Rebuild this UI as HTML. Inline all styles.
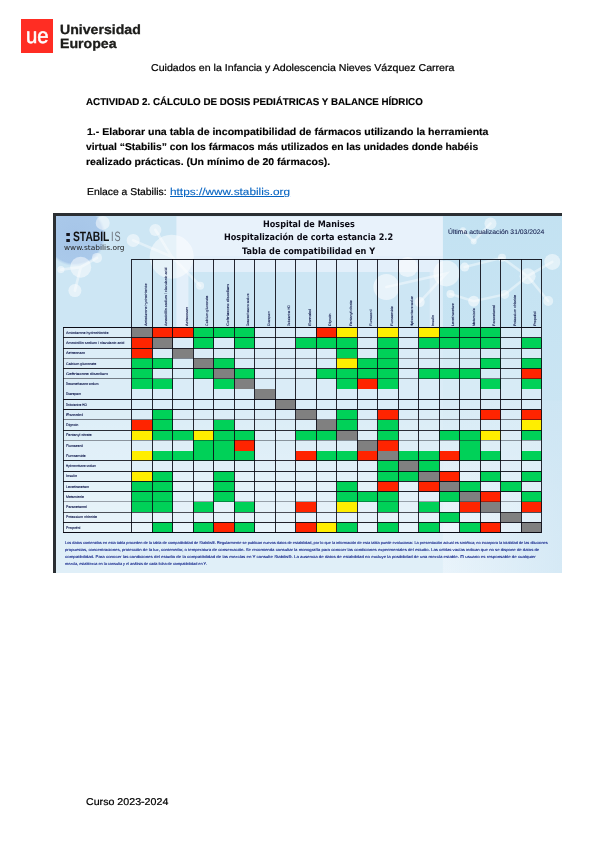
<!DOCTYPE html><html lang="es"><head><meta charset="utf-8"><title>Actividad 2</title><style>
html,body{margin:0;padding:0;background:#fff}
body{width:600px;height:848px;position:relative;overflow:hidden;text-rendering:geometricPrecision;font-family:"Liberation Sans", sans-serif}
.t{position:absolute;white-space:nowrap;transform-origin:0 50%;line-height:20px;height:20px;margin:0}
.a{position:absolute}
.v{position:absolute;white-space:nowrap;transform-origin:0 50%;line-height:10px;height:10px;font-size:3.5px;color:#0c1448;-webkit-text-stroke:.1px #0c1448}
u{text-decoration-thickness:.8px;text-underline-offset:1.2px}
</style></head><body>
<div class="a" style="left:20.8px;top:19px;width:32.4px;height:34px;background:#ff2d23"></div>
<svg class="a" style="left:20.8px;top:19px" width="32.4" height="34" viewBox="0 0 32.4 34"><text x="16.2" y="24.1" text-anchor="middle" font-family="Liberation Sans, sans-serif" font-size="21.6" fill="#fff" stroke="#fff" stroke-width=".55" textLength="22.6" lengthAdjust="spacingAndGlyphs">ue</text></svg>
<div id="fig" class="a" style="left:0;top:0;width:600px;height:848px;filter:blur(.35px)">
<div id="img" class="a" style="left:53.3px;top:212.6px;width:508.3px;height:360.7px;background:#c9e4f3;overflow:hidden">
<svg class="a" style="left:0;top:0" width="508.3" height="360.7" viewBox="53.3 212.6 508.3 360.7">
<defs>
<radialGradient id="blob" cx="50%" cy="50%" r="50%"><stop offset="0" stop-color="#a6c5e8"/><stop offset=".9" stop-color="#aac9ea"/><stop offset="1" stop-color="#b8d5ef" stop-opacity="0"/></radialGradient>
<linearGradient id="rg" x1="0" y1="0" x2="0" y2="1"><stop offset="0" stop-color="#c3e2f2"/><stop offset=".6" stop-color="#cbe5f3"/><stop offset="1" stop-color="#ddedf8"/></linearGradient>
</defs>
<rect x="53" y="212" width="510" height="362" fill="#cde6f4"/>
<rect x="443.2" y="212" width="125" height="362" fill="url(#rg)"/>
<circle cx="75" cy="235" r="31" fill="url(#blob)"/>
<rect x="176.7" y="216" width="266.5" height="39.6" fill="#e8f2fb"/>
<rect x="176.7" y="255.6" width="266.5" height="16" fill="#e3effa"/>
<rect x="176.7" y="271.6" width="12" height="60" fill="#e3effa"/>
<rect x="430" y="271.6" width="13.2" height="60" fill="#dcecf8"/>
<linearGradient id="vg" x1="0" y1="0" x2="0" y2="1"><stop offset="0" stop-color="#fff" stop-opacity="0"/><stop offset="1" stop-color="#fff" stop-opacity=".38"/></linearGradient><linearGradient id="hg" x1="0" y1="0" x2="1" y2="0"><stop offset="0" stop-color="#cfe6f4" stop-opacity="0"/><stop offset="1" stop-color="#cfe6f4" stop-opacity=".75"/></linearGradient><rect x="53" y="400" width="510" height="135" fill="url(#vg)"/><rect x="53" y="535" width="510" height="40" fill="#fff" fill-opacity=".38"/><rect x="440" y="400" width="123" height="175" fill="url(#hg)"/>
<g fill="#fff" stroke="none" opacity=".5">
<circle cx="81" cy="266.8" r="10.5"/><circle cx="61.2" cy="269.2" r="3.6"/><circle cx="75.2" cy="290.2" r="6.5"/><circle cx="97.3" cy="257.5" r="5"/>
<circle cx="103" cy="222.5" r="7"/>
<circle cx="172" cy="256.3" r="22"/><circle cx="133.5" cy="240" r="6.5"/><circle cx="155.7" cy="229.5" r="6"/><circle cx="200.4" cy="285.3" r="4"/>
<circle cx="490.8" cy="223" r="6"/><circle cx="463.3" cy="229.9" r="3"/><circle cx="474" cy="241" r="3"/>
<circle cx="552.6" cy="261.5" r="8"/><circle cx="527.9" cy="275.8" r="8"/><circle cx="502.3" cy="257.4" r="4"/>
<circle cx="505" cy="294" r="4.5"/><circle cx="548.5" cy="300.6" r="5"/>
</g>
<g fill="#fff" stroke="none" opacity=".55">
<circle cx="386.7" cy="286.7" r="13"/><circle cx="408" cy="266.7" r="10"/><circle cx="446.7" cy="273" r="13"/><circle cx="420" cy="301.7" r="5"/>
<circle cx="450.8" cy="293.7" r="4"/><circle cx="465" cy="266.7" r="4.5"/><circle cx="474" cy="300.8" r="5.5"/>
</g>
<g stroke="#fff" stroke-width="2.6" opacity=".42" fill="none" stroke-linecap="round">
<path d="M81 266.8L61.2 269.2M81 266.8L75.2 290.2M81 266.8L97.3 257.5"/>
<path d="M172 256.3L133.5 240M172 256.3L155.7 229.5M172 256.3L200.4 285.3"/>
<path d="M552.6 261.5L527.9 275.8L548.5 300.6M527.9 275.8L502.3 257.4L465 266.7M450.8 293.7L474 300.8L505 294L527.9 275.8M386.7 286.7L446.7 273L420 301.7M490.8 223L474 241L463.3 229.9"/>
</g>
</svg>

</div>
<div class="a" style="left:53.3px;top:212.6px;width:508.3px;height:3.4px;background:#2b2f33"></div>
<div class="a" style="left:53.3px;top:212.6px;width:2.6px;height:360.7px;background:#2b2f33"></div>
<div class="a" style="left:63.30px;top:327.50px;width:68.20px;height:205.00px;background:rgba(255,255,255,.3)"></div>
<div class="a" style="left:131.50px;top:327.50px;width:20.50px;height:10.25px;background:#808080"></div>
<div class="a" style="left:152.00px;top:327.50px;width:20.50px;height:10.25px;background:#ff2400"></div>
<div class="a" style="left:172.50px;top:327.50px;width:20.50px;height:10.25px;background:#ff2400"></div>
<div class="a" style="left:193.00px;top:327.50px;width:20.50px;height:10.25px;background:#00d158"></div>
<div class="a" style="left:213.50px;top:327.50px;width:20.50px;height:10.25px;background:#00d158"></div>
<div class="a" style="left:234.00px;top:327.50px;width:20.50px;height:10.25px;background:#00d158"></div>
<div class="a" style="left:254.50px;top:327.50px;width:20.50px;height:10.25px;background:rgba(255,255,255,.26)"></div>
<div class="a" style="left:275.00px;top:327.50px;width:20.50px;height:10.25px;background:rgba(255,255,255,.26)"></div>
<div class="a" style="left:295.50px;top:327.50px;width:20.50px;height:10.25px;background:rgba(255,255,255,.26)"></div>
<div class="a" style="left:316.00px;top:327.50px;width:20.50px;height:10.25px;background:#ff2400"></div>
<div class="a" style="left:336.50px;top:327.50px;width:20.50px;height:10.25px;background:#ffee00"></div>
<div class="a" style="left:357.00px;top:327.50px;width:20.50px;height:10.25px;background:rgba(255,255,255,.26)"></div>
<div class="a" style="left:377.50px;top:327.50px;width:20.50px;height:10.25px;background:#ffee00"></div>
<div class="a" style="left:398.00px;top:327.50px;width:20.50px;height:10.25px;background:rgba(255,255,255,.26)"></div>
<div class="a" style="left:418.50px;top:327.50px;width:20.50px;height:10.25px;background:#ffee00"></div>
<div class="a" style="left:439.00px;top:327.50px;width:20.50px;height:10.25px;background:#00d158"></div>
<div class="a" style="left:459.50px;top:327.50px;width:20.50px;height:10.25px;background:#00d158"></div>
<div class="a" style="left:480.00px;top:327.50px;width:20.50px;height:10.25px;background:#00d158"></div>
<div class="a" style="left:500.50px;top:327.50px;width:20.50px;height:10.25px;background:rgba(255,255,255,.26)"></div>
<div class="a" style="left:521.00px;top:327.50px;width:20.50px;height:10.25px;background:rgba(255,255,255,.26)"></div>
<div class="a" style="left:131.50px;top:337.75px;width:20.50px;height:10.25px;background:#ff2400"></div>
<div class="a" style="left:152.00px;top:337.75px;width:20.50px;height:10.25px;background:#808080"></div>
<div class="a" style="left:172.50px;top:337.75px;width:20.50px;height:10.25px;background:rgba(255,255,255,.26)"></div>
<div class="a" style="left:193.00px;top:337.75px;width:20.50px;height:10.25px;background:#00d158"></div>
<div class="a" style="left:213.50px;top:337.75px;width:20.50px;height:10.25px;background:rgba(255,255,255,.26)"></div>
<div class="a" style="left:234.00px;top:337.75px;width:20.50px;height:10.25px;background:#00d158"></div>
<div class="a" style="left:254.50px;top:337.75px;width:20.50px;height:10.25px;background:rgba(255,255,255,.26)"></div>
<div class="a" style="left:275.00px;top:337.75px;width:20.50px;height:10.25px;background:rgba(255,255,255,.26)"></div>
<div class="a" style="left:295.50px;top:337.75px;width:20.50px;height:10.25px;background:#00d158"></div>
<div class="a" style="left:316.00px;top:337.75px;width:20.50px;height:10.25px;background:#00d158"></div>
<div class="a" style="left:336.50px;top:337.75px;width:20.50px;height:10.25px;background:#00d158"></div>
<div class="a" style="left:357.00px;top:337.75px;width:20.50px;height:10.25px;background:rgba(255,255,255,.26)"></div>
<div class="a" style="left:377.50px;top:337.75px;width:20.50px;height:10.25px;background:#00d158"></div>
<div class="a" style="left:398.00px;top:337.75px;width:20.50px;height:10.25px;background:rgba(255,255,255,.26)"></div>
<div class="a" style="left:418.50px;top:337.75px;width:20.50px;height:10.25px;background:#00d158"></div>
<div class="a" style="left:439.00px;top:337.75px;width:20.50px;height:10.25px;background:#00d158"></div>
<div class="a" style="left:459.50px;top:337.75px;width:20.50px;height:10.25px;background:#00d158"></div>
<div class="a" style="left:480.00px;top:337.75px;width:20.50px;height:10.25px;background:#00d158"></div>
<div class="a" style="left:500.50px;top:337.75px;width:20.50px;height:10.25px;background:rgba(255,255,255,.26)"></div>
<div class="a" style="left:521.00px;top:337.75px;width:20.50px;height:10.25px;background:#00d158"></div>
<div class="a" style="left:131.50px;top:348.00px;width:20.50px;height:10.25px;background:#ff2400"></div>
<div class="a" style="left:152.00px;top:348.00px;width:20.50px;height:10.25px;background:rgba(255,255,255,.26)"></div>
<div class="a" style="left:172.50px;top:348.00px;width:20.50px;height:10.25px;background:#808080"></div>
<div class="a" style="left:193.00px;top:348.00px;width:20.50px;height:10.25px;background:rgba(255,255,255,.26)"></div>
<div class="a" style="left:213.50px;top:348.00px;width:20.50px;height:10.25px;background:rgba(255,255,255,.26)"></div>
<div class="a" style="left:234.00px;top:348.00px;width:20.50px;height:10.25px;background:rgba(255,255,255,.26)"></div>
<div class="a" style="left:254.50px;top:348.00px;width:20.50px;height:10.25px;background:rgba(255,255,255,.26)"></div>
<div class="a" style="left:275.00px;top:348.00px;width:20.50px;height:10.25px;background:rgba(255,255,255,.26)"></div>
<div class="a" style="left:295.50px;top:348.00px;width:20.50px;height:10.25px;background:rgba(255,255,255,.26)"></div>
<div class="a" style="left:316.00px;top:348.00px;width:20.50px;height:10.25px;background:rgba(255,255,255,.26)"></div>
<div class="a" style="left:336.50px;top:348.00px;width:20.50px;height:10.25px;background:#00d158"></div>
<div class="a" style="left:357.00px;top:348.00px;width:20.50px;height:10.25px;background:rgba(255,255,255,.26)"></div>
<div class="a" style="left:377.50px;top:348.00px;width:20.50px;height:10.25px;background:#00d158"></div>
<div class="a" style="left:398.00px;top:348.00px;width:20.50px;height:10.25px;background:rgba(255,255,255,.26)"></div>
<div class="a" style="left:418.50px;top:348.00px;width:20.50px;height:10.25px;background:rgba(255,255,255,.26)"></div>
<div class="a" style="left:439.00px;top:348.00px;width:20.50px;height:10.25px;background:rgba(255,255,255,.26)"></div>
<div class="a" style="left:459.50px;top:348.00px;width:20.50px;height:10.25px;background:rgba(255,255,255,.26)"></div>
<div class="a" style="left:480.00px;top:348.00px;width:20.50px;height:10.25px;background:rgba(255,255,255,.26)"></div>
<div class="a" style="left:500.50px;top:348.00px;width:20.50px;height:10.25px;background:rgba(255,255,255,.26)"></div>
<div class="a" style="left:521.00px;top:348.00px;width:20.50px;height:10.25px;background:rgba(255,255,255,.26)"></div>
<div class="a" style="left:131.50px;top:358.25px;width:20.50px;height:10.25px;background:#00d158"></div>
<div class="a" style="left:152.00px;top:358.25px;width:20.50px;height:10.25px;background:#00d158"></div>
<div class="a" style="left:172.50px;top:358.25px;width:20.50px;height:10.25px;background:rgba(255,255,255,.26)"></div>
<div class="a" style="left:193.00px;top:358.25px;width:20.50px;height:10.25px;background:#808080"></div>
<div class="a" style="left:213.50px;top:358.25px;width:20.50px;height:10.25px;background:#00d158"></div>
<div class="a" style="left:234.00px;top:358.25px;width:20.50px;height:10.25px;background:rgba(255,255,255,.26)"></div>
<div class="a" style="left:254.50px;top:358.25px;width:20.50px;height:10.25px;background:rgba(255,255,255,.26)"></div>
<div class="a" style="left:275.00px;top:358.25px;width:20.50px;height:10.25px;background:rgba(255,255,255,.26)"></div>
<div class="a" style="left:295.50px;top:358.25px;width:20.50px;height:10.25px;background:rgba(255,255,255,.26)"></div>
<div class="a" style="left:316.00px;top:358.25px;width:20.50px;height:10.25px;background:rgba(255,255,255,.26)"></div>
<div class="a" style="left:336.50px;top:358.25px;width:20.50px;height:10.25px;background:#ffee00"></div>
<div class="a" style="left:357.00px;top:358.25px;width:20.50px;height:10.25px;background:#00d158"></div>
<div class="a" style="left:377.50px;top:358.25px;width:20.50px;height:10.25px;background:#00d158"></div>
<div class="a" style="left:398.00px;top:358.25px;width:20.50px;height:10.25px;background:rgba(255,255,255,.26)"></div>
<div class="a" style="left:418.50px;top:358.25px;width:20.50px;height:10.25px;background:rgba(255,255,255,.26)"></div>
<div class="a" style="left:439.00px;top:358.25px;width:20.50px;height:10.25px;background:rgba(255,255,255,.26)"></div>
<div class="a" style="left:459.50px;top:358.25px;width:20.50px;height:10.25px;background:rgba(255,255,255,.26)"></div>
<div class="a" style="left:480.00px;top:358.25px;width:20.50px;height:10.25px;background:#00d158"></div>
<div class="a" style="left:500.50px;top:358.25px;width:20.50px;height:10.25px;background:rgba(255,255,255,.26)"></div>
<div class="a" style="left:521.00px;top:358.25px;width:20.50px;height:10.25px;background:#00d158"></div>
<div class="a" style="left:131.50px;top:368.50px;width:20.50px;height:10.25px;background:#00d158"></div>
<div class="a" style="left:152.00px;top:368.50px;width:20.50px;height:10.25px;background:rgba(255,255,255,.26)"></div>
<div class="a" style="left:172.50px;top:368.50px;width:20.50px;height:10.25px;background:rgba(255,255,255,.26)"></div>
<div class="a" style="left:193.00px;top:368.50px;width:20.50px;height:10.25px;background:#00d158"></div>
<div class="a" style="left:213.50px;top:368.50px;width:20.50px;height:10.25px;background:#808080"></div>
<div class="a" style="left:234.00px;top:368.50px;width:20.50px;height:10.25px;background:#00d158"></div>
<div class="a" style="left:254.50px;top:368.50px;width:20.50px;height:10.25px;background:rgba(255,255,255,.26)"></div>
<div class="a" style="left:275.00px;top:368.50px;width:20.50px;height:10.25px;background:rgba(255,255,255,.26)"></div>
<div class="a" style="left:295.50px;top:368.50px;width:20.50px;height:10.25px;background:rgba(255,255,255,.26)"></div>
<div class="a" style="left:316.00px;top:368.50px;width:20.50px;height:10.25px;background:#00d158"></div>
<div class="a" style="left:336.50px;top:368.50px;width:20.50px;height:10.25px;background:#00d158"></div>
<div class="a" style="left:357.00px;top:368.50px;width:20.50px;height:10.25px;background:#00d158"></div>
<div class="a" style="left:377.50px;top:368.50px;width:20.50px;height:10.25px;background:#00d158"></div>
<div class="a" style="left:398.00px;top:368.50px;width:20.50px;height:10.25px;background:rgba(255,255,255,.26)"></div>
<div class="a" style="left:418.50px;top:368.50px;width:20.50px;height:10.25px;background:#00d158"></div>
<div class="a" style="left:439.00px;top:368.50px;width:20.50px;height:10.25px;background:#00d158"></div>
<div class="a" style="left:459.50px;top:368.50px;width:20.50px;height:10.25px;background:#00d158"></div>
<div class="a" style="left:480.00px;top:368.50px;width:20.50px;height:10.25px;background:rgba(255,255,255,.26)"></div>
<div class="a" style="left:500.50px;top:368.50px;width:20.50px;height:10.25px;background:rgba(255,255,255,.26)"></div>
<div class="a" style="left:521.00px;top:368.50px;width:20.50px;height:10.25px;background:#ff2400"></div>
<div class="a" style="left:131.50px;top:378.75px;width:20.50px;height:10.25px;background:#00d158"></div>
<div class="a" style="left:152.00px;top:378.75px;width:20.50px;height:10.25px;background:#00d158"></div>
<div class="a" style="left:172.50px;top:378.75px;width:20.50px;height:10.25px;background:rgba(255,255,255,.26)"></div>
<div class="a" style="left:193.00px;top:378.75px;width:20.50px;height:10.25px;background:rgba(255,255,255,.26)"></div>
<div class="a" style="left:213.50px;top:378.75px;width:20.50px;height:10.25px;background:#00d158"></div>
<div class="a" style="left:234.00px;top:378.75px;width:20.50px;height:10.25px;background:#808080"></div>
<div class="a" style="left:254.50px;top:378.75px;width:20.50px;height:10.25px;background:rgba(255,255,255,.26)"></div>
<div class="a" style="left:275.00px;top:378.75px;width:20.50px;height:10.25px;background:rgba(255,255,255,.26)"></div>
<div class="a" style="left:295.50px;top:378.75px;width:20.50px;height:10.25px;background:rgba(255,255,255,.26)"></div>
<div class="a" style="left:316.00px;top:378.75px;width:20.50px;height:10.25px;background:rgba(255,255,255,.26)"></div>
<div class="a" style="left:336.50px;top:378.75px;width:20.50px;height:10.25px;background:#00d158"></div>
<div class="a" style="left:357.00px;top:378.75px;width:20.50px;height:10.25px;background:#ff2400"></div>
<div class="a" style="left:377.50px;top:378.75px;width:20.50px;height:10.25px;background:#00d158"></div>
<div class="a" style="left:398.00px;top:378.75px;width:20.50px;height:10.25px;background:rgba(255,255,255,.26)"></div>
<div class="a" style="left:418.50px;top:378.75px;width:20.50px;height:10.25px;background:rgba(255,255,255,.26)"></div>
<div class="a" style="left:439.00px;top:378.75px;width:20.50px;height:10.25px;background:rgba(255,255,255,.26)"></div>
<div class="a" style="left:459.50px;top:378.75px;width:20.50px;height:10.25px;background:rgba(255,255,255,.26)"></div>
<div class="a" style="left:480.00px;top:378.75px;width:20.50px;height:10.25px;background:#00d158"></div>
<div class="a" style="left:500.50px;top:378.75px;width:20.50px;height:10.25px;background:rgba(255,255,255,.26)"></div>
<div class="a" style="left:521.00px;top:378.75px;width:20.50px;height:10.25px;background:#00d158"></div>
<div class="a" style="left:131.50px;top:389.00px;width:20.50px;height:10.25px;background:rgba(255,255,255,.26)"></div>
<div class="a" style="left:152.00px;top:389.00px;width:20.50px;height:10.25px;background:rgba(255,255,255,.26)"></div>
<div class="a" style="left:172.50px;top:389.00px;width:20.50px;height:10.25px;background:rgba(255,255,255,.26)"></div>
<div class="a" style="left:193.00px;top:389.00px;width:20.50px;height:10.25px;background:rgba(255,255,255,.26)"></div>
<div class="a" style="left:213.50px;top:389.00px;width:20.50px;height:10.25px;background:rgba(255,255,255,.26)"></div>
<div class="a" style="left:234.00px;top:389.00px;width:20.50px;height:10.25px;background:rgba(255,255,255,.26)"></div>
<div class="a" style="left:254.50px;top:389.00px;width:20.50px;height:10.25px;background:#808080"></div>
<div class="a" style="left:275.00px;top:389.00px;width:20.50px;height:10.25px;background:rgba(255,255,255,.26)"></div>
<div class="a" style="left:295.50px;top:389.00px;width:20.50px;height:10.25px;background:rgba(255,255,255,.26)"></div>
<div class="a" style="left:316.00px;top:389.00px;width:20.50px;height:10.25px;background:rgba(255,255,255,.26)"></div>
<div class="a" style="left:336.50px;top:389.00px;width:20.50px;height:10.25px;background:rgba(255,255,255,.26)"></div>
<div class="a" style="left:357.00px;top:389.00px;width:20.50px;height:10.25px;background:rgba(255,255,255,.26)"></div>
<div class="a" style="left:377.50px;top:389.00px;width:20.50px;height:10.25px;background:rgba(255,255,255,.26)"></div>
<div class="a" style="left:398.00px;top:389.00px;width:20.50px;height:10.25px;background:rgba(255,255,255,.26)"></div>
<div class="a" style="left:418.50px;top:389.00px;width:20.50px;height:10.25px;background:rgba(255,255,255,.26)"></div>
<div class="a" style="left:439.00px;top:389.00px;width:20.50px;height:10.25px;background:rgba(255,255,255,.26)"></div>
<div class="a" style="left:459.50px;top:389.00px;width:20.50px;height:10.25px;background:rgba(255,255,255,.26)"></div>
<div class="a" style="left:480.00px;top:389.00px;width:20.50px;height:10.25px;background:rgba(255,255,255,.26)"></div>
<div class="a" style="left:500.50px;top:389.00px;width:20.50px;height:10.25px;background:rgba(255,255,255,.26)"></div>
<div class="a" style="left:521.00px;top:389.00px;width:20.50px;height:10.25px;background:rgba(255,255,255,.26)"></div>
<div class="a" style="left:131.50px;top:399.25px;width:20.50px;height:10.25px;background:rgba(255,255,255,.26)"></div>
<div class="a" style="left:152.00px;top:399.25px;width:20.50px;height:10.25px;background:rgba(255,255,255,.26)"></div>
<div class="a" style="left:172.50px;top:399.25px;width:20.50px;height:10.25px;background:rgba(255,255,255,.26)"></div>
<div class="a" style="left:193.00px;top:399.25px;width:20.50px;height:10.25px;background:rgba(255,255,255,.26)"></div>
<div class="a" style="left:213.50px;top:399.25px;width:20.50px;height:10.25px;background:rgba(255,255,255,.26)"></div>
<div class="a" style="left:234.00px;top:399.25px;width:20.50px;height:10.25px;background:rgba(255,255,255,.26)"></div>
<div class="a" style="left:254.50px;top:399.25px;width:20.50px;height:10.25px;background:rgba(255,255,255,.26)"></div>
<div class="a" style="left:275.00px;top:399.25px;width:20.50px;height:10.25px;background:#808080"></div>
<div class="a" style="left:295.50px;top:399.25px;width:20.50px;height:10.25px;background:rgba(255,255,255,.26)"></div>
<div class="a" style="left:316.00px;top:399.25px;width:20.50px;height:10.25px;background:rgba(255,255,255,.26)"></div>
<div class="a" style="left:336.50px;top:399.25px;width:20.50px;height:10.25px;background:rgba(255,255,255,.26)"></div>
<div class="a" style="left:357.00px;top:399.25px;width:20.50px;height:10.25px;background:rgba(255,255,255,.26)"></div>
<div class="a" style="left:377.50px;top:399.25px;width:20.50px;height:10.25px;background:rgba(255,255,255,.26)"></div>
<div class="a" style="left:398.00px;top:399.25px;width:20.50px;height:10.25px;background:rgba(255,255,255,.26)"></div>
<div class="a" style="left:418.50px;top:399.25px;width:20.50px;height:10.25px;background:rgba(255,255,255,.26)"></div>
<div class="a" style="left:439.00px;top:399.25px;width:20.50px;height:10.25px;background:rgba(255,255,255,.26)"></div>
<div class="a" style="left:459.50px;top:399.25px;width:20.50px;height:10.25px;background:rgba(255,255,255,.26)"></div>
<div class="a" style="left:480.00px;top:399.25px;width:20.50px;height:10.25px;background:rgba(255,255,255,.26)"></div>
<div class="a" style="left:500.50px;top:399.25px;width:20.50px;height:10.25px;background:rgba(255,255,255,.26)"></div>
<div class="a" style="left:521.00px;top:399.25px;width:20.50px;height:10.25px;background:rgba(255,255,255,.26)"></div>
<div class="a" style="left:131.50px;top:409.50px;width:20.50px;height:10.25px;background:rgba(255,255,255,.26)"></div>
<div class="a" style="left:152.00px;top:409.50px;width:20.50px;height:10.25px;background:#00d158"></div>
<div class="a" style="left:172.50px;top:409.50px;width:20.50px;height:10.25px;background:rgba(255,255,255,.26)"></div>
<div class="a" style="left:193.00px;top:409.50px;width:20.50px;height:10.25px;background:rgba(255,255,255,.26)"></div>
<div class="a" style="left:213.50px;top:409.50px;width:20.50px;height:10.25px;background:rgba(255,255,255,.26)"></div>
<div class="a" style="left:234.00px;top:409.50px;width:20.50px;height:10.25px;background:rgba(255,255,255,.26)"></div>
<div class="a" style="left:254.50px;top:409.50px;width:20.50px;height:10.25px;background:rgba(255,255,255,.26)"></div>
<div class="a" style="left:275.00px;top:409.50px;width:20.50px;height:10.25px;background:rgba(255,255,255,.26)"></div>
<div class="a" style="left:295.50px;top:409.50px;width:20.50px;height:10.25px;background:#808080"></div>
<div class="a" style="left:316.00px;top:409.50px;width:20.50px;height:10.25px;background:rgba(255,255,255,.26)"></div>
<div class="a" style="left:336.50px;top:409.50px;width:20.50px;height:10.25px;background:#00d158"></div>
<div class="a" style="left:357.00px;top:409.50px;width:20.50px;height:10.25px;background:rgba(255,255,255,.26)"></div>
<div class="a" style="left:377.50px;top:409.50px;width:20.50px;height:10.25px;background:#ff2400"></div>
<div class="a" style="left:398.00px;top:409.50px;width:20.50px;height:10.25px;background:rgba(255,255,255,.26)"></div>
<div class="a" style="left:418.50px;top:409.50px;width:20.50px;height:10.25px;background:rgba(255,255,255,.26)"></div>
<div class="a" style="left:439.00px;top:409.50px;width:20.50px;height:10.25px;background:rgba(255,255,255,.26)"></div>
<div class="a" style="left:459.50px;top:409.50px;width:20.50px;height:10.25px;background:rgba(255,255,255,.26)"></div>
<div class="a" style="left:480.00px;top:409.50px;width:20.50px;height:10.25px;background:#ff2400"></div>
<div class="a" style="left:500.50px;top:409.50px;width:20.50px;height:10.25px;background:rgba(255,255,255,.26)"></div>
<div class="a" style="left:521.00px;top:409.50px;width:20.50px;height:10.25px;background:#ff2400"></div>
<div class="a" style="left:131.50px;top:419.75px;width:20.50px;height:10.25px;background:#ff2400"></div>
<div class="a" style="left:152.00px;top:419.75px;width:20.50px;height:10.25px;background:#00d158"></div>
<div class="a" style="left:172.50px;top:419.75px;width:20.50px;height:10.25px;background:rgba(255,255,255,.26)"></div>
<div class="a" style="left:193.00px;top:419.75px;width:20.50px;height:10.25px;background:rgba(255,255,255,.26)"></div>
<div class="a" style="left:213.50px;top:419.75px;width:20.50px;height:10.25px;background:#00d158"></div>
<div class="a" style="left:234.00px;top:419.75px;width:20.50px;height:10.25px;background:rgba(255,255,255,.26)"></div>
<div class="a" style="left:254.50px;top:419.75px;width:20.50px;height:10.25px;background:rgba(255,255,255,.26)"></div>
<div class="a" style="left:275.00px;top:419.75px;width:20.50px;height:10.25px;background:rgba(255,255,255,.26)"></div>
<div class="a" style="left:295.50px;top:419.75px;width:20.50px;height:10.25px;background:rgba(255,255,255,.26)"></div>
<div class="a" style="left:316.00px;top:419.75px;width:20.50px;height:10.25px;background:#808080"></div>
<div class="a" style="left:336.50px;top:419.75px;width:20.50px;height:10.25px;background:#00d158"></div>
<div class="a" style="left:357.00px;top:419.75px;width:20.50px;height:10.25px;background:rgba(255,255,255,.26)"></div>
<div class="a" style="left:377.50px;top:419.75px;width:20.50px;height:10.25px;background:#00d158"></div>
<div class="a" style="left:398.00px;top:419.75px;width:20.50px;height:10.25px;background:rgba(255,255,255,.26)"></div>
<div class="a" style="left:418.50px;top:419.75px;width:20.50px;height:10.25px;background:rgba(255,255,255,.26)"></div>
<div class="a" style="left:439.00px;top:419.75px;width:20.50px;height:10.25px;background:rgba(255,255,255,.26)"></div>
<div class="a" style="left:459.50px;top:419.75px;width:20.50px;height:10.25px;background:rgba(255,255,255,.26)"></div>
<div class="a" style="left:480.00px;top:419.75px;width:20.50px;height:10.25px;background:rgba(255,255,255,.26)"></div>
<div class="a" style="left:500.50px;top:419.75px;width:20.50px;height:10.25px;background:rgba(255,255,255,.26)"></div>
<div class="a" style="left:521.00px;top:419.75px;width:20.50px;height:10.25px;background:#ffee00"></div>
<div class="a" style="left:131.50px;top:430.00px;width:20.50px;height:10.25px;background:#ffee00"></div>
<div class="a" style="left:152.00px;top:430.00px;width:20.50px;height:10.25px;background:#00d158"></div>
<div class="a" style="left:172.50px;top:430.00px;width:20.50px;height:10.25px;background:#00d158"></div>
<div class="a" style="left:193.00px;top:430.00px;width:20.50px;height:10.25px;background:#ffee00"></div>
<div class="a" style="left:213.50px;top:430.00px;width:20.50px;height:10.25px;background:#00d158"></div>
<div class="a" style="left:234.00px;top:430.00px;width:20.50px;height:10.25px;background:#00d158"></div>
<div class="a" style="left:254.50px;top:430.00px;width:20.50px;height:10.25px;background:rgba(255,255,255,.26)"></div>
<div class="a" style="left:275.00px;top:430.00px;width:20.50px;height:10.25px;background:rgba(255,255,255,.26)"></div>
<div class="a" style="left:295.50px;top:430.00px;width:20.50px;height:10.25px;background:#00d158"></div>
<div class="a" style="left:316.00px;top:430.00px;width:20.50px;height:10.25px;background:#00d158"></div>
<div class="a" style="left:336.50px;top:430.00px;width:20.50px;height:10.25px;background:#808080"></div>
<div class="a" style="left:357.00px;top:430.00px;width:20.50px;height:10.25px;background:rgba(255,255,255,.26)"></div>
<div class="a" style="left:377.50px;top:430.00px;width:20.50px;height:10.25px;background:#00d158"></div>
<div class="a" style="left:398.00px;top:430.00px;width:20.50px;height:10.25px;background:rgba(255,255,255,.26)"></div>
<div class="a" style="left:418.50px;top:430.00px;width:20.50px;height:10.25px;background:rgba(255,255,255,.26)"></div>
<div class="a" style="left:439.00px;top:430.00px;width:20.50px;height:10.25px;background:#00d158"></div>
<div class="a" style="left:459.50px;top:430.00px;width:20.50px;height:10.25px;background:#00d158"></div>
<div class="a" style="left:480.00px;top:430.00px;width:20.50px;height:10.25px;background:#ffee00"></div>
<div class="a" style="left:500.50px;top:430.00px;width:20.50px;height:10.25px;background:rgba(255,255,255,.26)"></div>
<div class="a" style="left:521.00px;top:430.00px;width:20.50px;height:10.25px;background:#00d158"></div>
<div class="a" style="left:131.50px;top:440.25px;width:20.50px;height:10.25px;background:rgba(255,255,255,.26)"></div>
<div class="a" style="left:152.00px;top:440.25px;width:20.50px;height:10.25px;background:rgba(255,255,255,.26)"></div>
<div class="a" style="left:172.50px;top:440.25px;width:20.50px;height:10.25px;background:rgba(255,255,255,.26)"></div>
<div class="a" style="left:193.00px;top:440.25px;width:20.50px;height:10.25px;background:#00d158"></div>
<div class="a" style="left:213.50px;top:440.25px;width:20.50px;height:10.25px;background:#00d158"></div>
<div class="a" style="left:234.00px;top:440.25px;width:20.50px;height:10.25px;background:#ff2400"></div>
<div class="a" style="left:254.50px;top:440.25px;width:20.50px;height:10.25px;background:rgba(255,255,255,.26)"></div>
<div class="a" style="left:275.00px;top:440.25px;width:20.50px;height:10.25px;background:rgba(255,255,255,.26)"></div>
<div class="a" style="left:295.50px;top:440.25px;width:20.50px;height:10.25px;background:rgba(255,255,255,.26)"></div>
<div class="a" style="left:316.00px;top:440.25px;width:20.50px;height:10.25px;background:rgba(255,255,255,.26)"></div>
<div class="a" style="left:336.50px;top:440.25px;width:20.50px;height:10.25px;background:rgba(255,255,255,.26)"></div>
<div class="a" style="left:357.00px;top:440.25px;width:20.50px;height:10.25px;background:#808080"></div>
<div class="a" style="left:377.50px;top:440.25px;width:20.50px;height:10.25px;background:#ff2400"></div>
<div class="a" style="left:398.00px;top:440.25px;width:20.50px;height:10.25px;background:rgba(255,255,255,.26)"></div>
<div class="a" style="left:418.50px;top:440.25px;width:20.50px;height:10.25px;background:rgba(255,255,255,.26)"></div>
<div class="a" style="left:439.00px;top:440.25px;width:20.50px;height:10.25px;background:rgba(255,255,255,.26)"></div>
<div class="a" style="left:459.50px;top:440.25px;width:20.50px;height:10.25px;background:#00d158"></div>
<div class="a" style="left:480.00px;top:440.25px;width:20.50px;height:10.25px;background:rgba(255,255,255,.26)"></div>
<div class="a" style="left:500.50px;top:440.25px;width:20.50px;height:10.25px;background:rgba(255,255,255,.26)"></div>
<div class="a" style="left:521.00px;top:440.25px;width:20.50px;height:10.25px;background:rgba(255,255,255,.26)"></div>
<div class="a" style="left:131.50px;top:450.50px;width:20.50px;height:10.25px;background:#ffee00"></div>
<div class="a" style="left:152.00px;top:450.50px;width:20.50px;height:10.25px;background:#00d158"></div>
<div class="a" style="left:172.50px;top:450.50px;width:20.50px;height:10.25px;background:#00d158"></div>
<div class="a" style="left:193.00px;top:450.50px;width:20.50px;height:10.25px;background:#00d158"></div>
<div class="a" style="left:213.50px;top:450.50px;width:20.50px;height:10.25px;background:#00d158"></div>
<div class="a" style="left:234.00px;top:450.50px;width:20.50px;height:10.25px;background:#00d158"></div>
<div class="a" style="left:254.50px;top:450.50px;width:20.50px;height:10.25px;background:rgba(255,255,255,.26)"></div>
<div class="a" style="left:275.00px;top:450.50px;width:20.50px;height:10.25px;background:rgba(255,255,255,.26)"></div>
<div class="a" style="left:295.50px;top:450.50px;width:20.50px;height:10.25px;background:#ff2400"></div>
<div class="a" style="left:316.00px;top:450.50px;width:20.50px;height:10.25px;background:#00d158"></div>
<div class="a" style="left:336.50px;top:450.50px;width:20.50px;height:10.25px;background:#00d158"></div>
<div class="a" style="left:357.00px;top:450.50px;width:20.50px;height:10.25px;background:#ff2400"></div>
<div class="a" style="left:377.50px;top:450.50px;width:20.50px;height:10.25px;background:#808080"></div>
<div class="a" style="left:398.00px;top:450.50px;width:20.50px;height:10.25px;background:#00d158"></div>
<div class="a" style="left:418.50px;top:450.50px;width:20.50px;height:10.25px;background:#00d158"></div>
<div class="a" style="left:439.00px;top:450.50px;width:20.50px;height:10.25px;background:#ff2400"></div>
<div class="a" style="left:459.50px;top:450.50px;width:20.50px;height:10.25px;background:#00d158"></div>
<div class="a" style="left:480.00px;top:450.50px;width:20.50px;height:10.25px;background:#00d158"></div>
<div class="a" style="left:500.50px;top:450.50px;width:20.50px;height:10.25px;background:rgba(255,255,255,.26)"></div>
<div class="a" style="left:521.00px;top:450.50px;width:20.50px;height:10.25px;background:#00d158"></div>
<div class="a" style="left:131.50px;top:460.75px;width:20.50px;height:10.25px;background:rgba(255,255,255,.26)"></div>
<div class="a" style="left:152.00px;top:460.75px;width:20.50px;height:10.25px;background:rgba(255,255,255,.26)"></div>
<div class="a" style="left:172.50px;top:460.75px;width:20.50px;height:10.25px;background:rgba(255,255,255,.26)"></div>
<div class="a" style="left:193.00px;top:460.75px;width:20.50px;height:10.25px;background:rgba(255,255,255,.26)"></div>
<div class="a" style="left:213.50px;top:460.75px;width:20.50px;height:10.25px;background:rgba(255,255,255,.26)"></div>
<div class="a" style="left:234.00px;top:460.75px;width:20.50px;height:10.25px;background:rgba(255,255,255,.26)"></div>
<div class="a" style="left:254.50px;top:460.75px;width:20.50px;height:10.25px;background:rgba(255,255,255,.26)"></div>
<div class="a" style="left:275.00px;top:460.75px;width:20.50px;height:10.25px;background:rgba(255,255,255,.26)"></div>
<div class="a" style="left:295.50px;top:460.75px;width:20.50px;height:10.25px;background:rgba(255,255,255,.26)"></div>
<div class="a" style="left:316.00px;top:460.75px;width:20.50px;height:10.25px;background:rgba(255,255,255,.26)"></div>
<div class="a" style="left:336.50px;top:460.75px;width:20.50px;height:10.25px;background:rgba(255,255,255,.26)"></div>
<div class="a" style="left:357.00px;top:460.75px;width:20.50px;height:10.25px;background:rgba(255,255,255,.26)"></div>
<div class="a" style="left:377.50px;top:460.75px;width:20.50px;height:10.25px;background:#00d158"></div>
<div class="a" style="left:398.00px;top:460.75px;width:20.50px;height:10.25px;background:#808080"></div>
<div class="a" style="left:418.50px;top:460.75px;width:20.50px;height:10.25px;background:#00d158"></div>
<div class="a" style="left:439.00px;top:460.75px;width:20.50px;height:10.25px;background:rgba(255,255,255,.26)"></div>
<div class="a" style="left:459.50px;top:460.75px;width:20.50px;height:10.25px;background:rgba(255,255,255,.26)"></div>
<div class="a" style="left:480.00px;top:460.75px;width:20.50px;height:10.25px;background:rgba(255,255,255,.26)"></div>
<div class="a" style="left:500.50px;top:460.75px;width:20.50px;height:10.25px;background:rgba(255,255,255,.26)"></div>
<div class="a" style="left:521.00px;top:460.75px;width:20.50px;height:10.25px;background:rgba(255,255,255,.26)"></div>
<div class="a" style="left:131.50px;top:471.00px;width:20.50px;height:10.25px;background:#ffee00"></div>
<div class="a" style="left:152.00px;top:471.00px;width:20.50px;height:10.25px;background:#00d158"></div>
<div class="a" style="left:172.50px;top:471.00px;width:20.50px;height:10.25px;background:rgba(255,255,255,.26)"></div>
<div class="a" style="left:193.00px;top:471.00px;width:20.50px;height:10.25px;background:rgba(255,255,255,.26)"></div>
<div class="a" style="left:213.50px;top:471.00px;width:20.50px;height:10.25px;background:#00d158"></div>
<div class="a" style="left:234.00px;top:471.00px;width:20.50px;height:10.25px;background:rgba(255,255,255,.26)"></div>
<div class="a" style="left:254.50px;top:471.00px;width:20.50px;height:10.25px;background:rgba(255,255,255,.26)"></div>
<div class="a" style="left:275.00px;top:471.00px;width:20.50px;height:10.25px;background:rgba(255,255,255,.26)"></div>
<div class="a" style="left:295.50px;top:471.00px;width:20.50px;height:10.25px;background:rgba(255,255,255,.26)"></div>
<div class="a" style="left:316.00px;top:471.00px;width:20.50px;height:10.25px;background:rgba(255,255,255,.26)"></div>
<div class="a" style="left:336.50px;top:471.00px;width:20.50px;height:10.25px;background:rgba(255,255,255,.26)"></div>
<div class="a" style="left:357.00px;top:471.00px;width:20.50px;height:10.25px;background:rgba(255,255,255,.26)"></div>
<div class="a" style="left:377.50px;top:471.00px;width:20.50px;height:10.25px;background:#00d158"></div>
<div class="a" style="left:398.00px;top:471.00px;width:20.50px;height:10.25px;background:#00d158"></div>
<div class="a" style="left:418.50px;top:471.00px;width:20.50px;height:10.25px;background:#808080"></div>
<div class="a" style="left:439.00px;top:471.00px;width:20.50px;height:10.25px;background:#ff2400"></div>
<div class="a" style="left:459.50px;top:471.00px;width:20.50px;height:10.25px;background:rgba(255,255,255,.26)"></div>
<div class="a" style="left:480.00px;top:471.00px;width:20.50px;height:10.25px;background:#00d158"></div>
<div class="a" style="left:500.50px;top:471.00px;width:20.50px;height:10.25px;background:rgba(255,255,255,.26)"></div>
<div class="a" style="left:521.00px;top:471.00px;width:20.50px;height:10.25px;background:#00d158"></div>
<div class="a" style="left:131.50px;top:481.25px;width:20.50px;height:10.25px;background:#00d158"></div>
<div class="a" style="left:152.00px;top:481.25px;width:20.50px;height:10.25px;background:#00d158"></div>
<div class="a" style="left:172.50px;top:481.25px;width:20.50px;height:10.25px;background:rgba(255,255,255,.26)"></div>
<div class="a" style="left:193.00px;top:481.25px;width:20.50px;height:10.25px;background:rgba(255,255,255,.26)"></div>
<div class="a" style="left:213.50px;top:481.25px;width:20.50px;height:10.25px;background:#00d158"></div>
<div class="a" style="left:234.00px;top:481.25px;width:20.50px;height:10.25px;background:rgba(255,255,255,.26)"></div>
<div class="a" style="left:254.50px;top:481.25px;width:20.50px;height:10.25px;background:rgba(255,255,255,.26)"></div>
<div class="a" style="left:275.00px;top:481.25px;width:20.50px;height:10.25px;background:rgba(255,255,255,.26)"></div>
<div class="a" style="left:295.50px;top:481.25px;width:20.50px;height:10.25px;background:rgba(255,255,255,.26)"></div>
<div class="a" style="left:316.00px;top:481.25px;width:20.50px;height:10.25px;background:rgba(255,255,255,.26)"></div>
<div class="a" style="left:336.50px;top:481.25px;width:20.50px;height:10.25px;background:#00d158"></div>
<div class="a" style="left:357.00px;top:481.25px;width:20.50px;height:10.25px;background:rgba(255,255,255,.26)"></div>
<div class="a" style="left:377.50px;top:481.25px;width:20.50px;height:10.25px;background:#ff2400"></div>
<div class="a" style="left:398.00px;top:481.25px;width:20.50px;height:10.25px;background:rgba(255,255,255,.26)"></div>
<div class="a" style="left:418.50px;top:481.25px;width:20.50px;height:10.25px;background:#ff2400"></div>
<div class="a" style="left:439.00px;top:481.25px;width:20.50px;height:10.25px;background:#808080"></div>
<div class="a" style="left:459.50px;top:481.25px;width:20.50px;height:10.25px;background:#00d158"></div>
<div class="a" style="left:480.00px;top:481.25px;width:20.50px;height:10.25px;background:rgba(255,255,255,.26)"></div>
<div class="a" style="left:500.50px;top:481.25px;width:20.50px;height:10.25px;background:#00d158"></div>
<div class="a" style="left:521.00px;top:481.25px;width:20.50px;height:10.25px;background:rgba(255,255,255,.26)"></div>
<div class="a" style="left:131.50px;top:491.50px;width:20.50px;height:10.25px;background:#00d158"></div>
<div class="a" style="left:152.00px;top:491.50px;width:20.50px;height:10.25px;background:#00d158"></div>
<div class="a" style="left:172.50px;top:491.50px;width:20.50px;height:10.25px;background:rgba(255,255,255,.26)"></div>
<div class="a" style="left:193.00px;top:491.50px;width:20.50px;height:10.25px;background:rgba(255,255,255,.26)"></div>
<div class="a" style="left:213.50px;top:491.50px;width:20.50px;height:10.25px;background:#00d158"></div>
<div class="a" style="left:234.00px;top:491.50px;width:20.50px;height:10.25px;background:rgba(255,255,255,.26)"></div>
<div class="a" style="left:254.50px;top:491.50px;width:20.50px;height:10.25px;background:rgba(255,255,255,.26)"></div>
<div class="a" style="left:275.00px;top:491.50px;width:20.50px;height:10.25px;background:rgba(255,255,255,.26)"></div>
<div class="a" style="left:295.50px;top:491.50px;width:20.50px;height:10.25px;background:rgba(255,255,255,.26)"></div>
<div class="a" style="left:316.00px;top:491.50px;width:20.50px;height:10.25px;background:rgba(255,255,255,.26)"></div>
<div class="a" style="left:336.50px;top:491.50px;width:20.50px;height:10.25px;background:#00d158"></div>
<div class="a" style="left:357.00px;top:491.50px;width:20.50px;height:10.25px;background:#00d158"></div>
<div class="a" style="left:377.50px;top:491.50px;width:20.50px;height:10.25px;background:#00d158"></div>
<div class="a" style="left:398.00px;top:491.50px;width:20.50px;height:10.25px;background:rgba(255,255,255,.26)"></div>
<div class="a" style="left:418.50px;top:491.50px;width:20.50px;height:10.25px;background:rgba(255,255,255,.26)"></div>
<div class="a" style="left:439.00px;top:491.50px;width:20.50px;height:10.25px;background:#00d158"></div>
<div class="a" style="left:459.50px;top:491.50px;width:20.50px;height:10.25px;background:#808080"></div>
<div class="a" style="left:480.00px;top:491.50px;width:20.50px;height:10.25px;background:#ff2400"></div>
<div class="a" style="left:500.50px;top:491.50px;width:20.50px;height:10.25px;background:rgba(255,255,255,.26)"></div>
<div class="a" style="left:521.00px;top:491.50px;width:20.50px;height:10.25px;background:#00d158"></div>
<div class="a" style="left:131.50px;top:501.75px;width:20.50px;height:10.25px;background:#00d158"></div>
<div class="a" style="left:152.00px;top:501.75px;width:20.50px;height:10.25px;background:#00d158"></div>
<div class="a" style="left:172.50px;top:501.75px;width:20.50px;height:10.25px;background:rgba(255,255,255,.26)"></div>
<div class="a" style="left:193.00px;top:501.75px;width:20.50px;height:10.25px;background:#00d158"></div>
<div class="a" style="left:213.50px;top:501.75px;width:20.50px;height:10.25px;background:rgba(255,255,255,.26)"></div>
<div class="a" style="left:234.00px;top:501.75px;width:20.50px;height:10.25px;background:#00d158"></div>
<div class="a" style="left:254.50px;top:501.75px;width:20.50px;height:10.25px;background:rgba(255,255,255,.26)"></div>
<div class="a" style="left:275.00px;top:501.75px;width:20.50px;height:10.25px;background:rgba(255,255,255,.26)"></div>
<div class="a" style="left:295.50px;top:501.75px;width:20.50px;height:10.25px;background:#ff2400"></div>
<div class="a" style="left:316.00px;top:501.75px;width:20.50px;height:10.25px;background:rgba(255,255,255,.26)"></div>
<div class="a" style="left:336.50px;top:501.75px;width:20.50px;height:10.25px;background:#ffee00"></div>
<div class="a" style="left:357.00px;top:501.75px;width:20.50px;height:10.25px;background:rgba(255,255,255,.26)"></div>
<div class="a" style="left:377.50px;top:501.75px;width:20.50px;height:10.25px;background:#00d158"></div>
<div class="a" style="left:398.00px;top:501.75px;width:20.50px;height:10.25px;background:rgba(255,255,255,.26)"></div>
<div class="a" style="left:418.50px;top:501.75px;width:20.50px;height:10.25px;background:#00d158"></div>
<div class="a" style="left:439.00px;top:501.75px;width:20.50px;height:10.25px;background:rgba(255,255,255,.26)"></div>
<div class="a" style="left:459.50px;top:501.75px;width:20.50px;height:10.25px;background:#ff2400"></div>
<div class="a" style="left:480.00px;top:501.75px;width:20.50px;height:10.25px;background:#808080"></div>
<div class="a" style="left:500.50px;top:501.75px;width:20.50px;height:10.25px;background:rgba(255,255,255,.26)"></div>
<div class="a" style="left:521.00px;top:501.75px;width:20.50px;height:10.25px;background:#ff2400"></div>
<div class="a" style="left:131.50px;top:512.00px;width:20.50px;height:10.25px;background:rgba(255,255,255,.26)"></div>
<div class="a" style="left:152.00px;top:512.00px;width:20.50px;height:10.25px;background:rgba(255,255,255,.26)"></div>
<div class="a" style="left:172.50px;top:512.00px;width:20.50px;height:10.25px;background:rgba(255,255,255,.26)"></div>
<div class="a" style="left:193.00px;top:512.00px;width:20.50px;height:10.25px;background:rgba(255,255,255,.26)"></div>
<div class="a" style="left:213.50px;top:512.00px;width:20.50px;height:10.25px;background:rgba(255,255,255,.26)"></div>
<div class="a" style="left:234.00px;top:512.00px;width:20.50px;height:10.25px;background:rgba(255,255,255,.26)"></div>
<div class="a" style="left:254.50px;top:512.00px;width:20.50px;height:10.25px;background:rgba(255,255,255,.26)"></div>
<div class="a" style="left:275.00px;top:512.00px;width:20.50px;height:10.25px;background:rgba(255,255,255,.26)"></div>
<div class="a" style="left:295.50px;top:512.00px;width:20.50px;height:10.25px;background:rgba(255,255,255,.26)"></div>
<div class="a" style="left:316.00px;top:512.00px;width:20.50px;height:10.25px;background:rgba(255,255,255,.26)"></div>
<div class="a" style="left:336.50px;top:512.00px;width:20.50px;height:10.25px;background:rgba(255,255,255,.26)"></div>
<div class="a" style="left:357.00px;top:512.00px;width:20.50px;height:10.25px;background:rgba(255,255,255,.26)"></div>
<div class="a" style="left:377.50px;top:512.00px;width:20.50px;height:10.25px;background:rgba(255,255,255,.26)"></div>
<div class="a" style="left:398.00px;top:512.00px;width:20.50px;height:10.25px;background:rgba(255,255,255,.26)"></div>
<div class="a" style="left:418.50px;top:512.00px;width:20.50px;height:10.25px;background:rgba(255,255,255,.26)"></div>
<div class="a" style="left:439.00px;top:512.00px;width:20.50px;height:10.25px;background:#00d158"></div>
<div class="a" style="left:459.50px;top:512.00px;width:20.50px;height:10.25px;background:rgba(255,255,255,.26)"></div>
<div class="a" style="left:480.00px;top:512.00px;width:20.50px;height:10.25px;background:rgba(255,255,255,.26)"></div>
<div class="a" style="left:500.50px;top:512.00px;width:20.50px;height:10.25px;background:#808080"></div>
<div class="a" style="left:521.00px;top:512.00px;width:20.50px;height:10.25px;background:rgba(255,255,255,.26)"></div>
<div class="a" style="left:131.50px;top:522.25px;width:20.50px;height:10.25px;background:rgba(255,255,255,.26)"></div>
<div class="a" style="left:152.00px;top:522.25px;width:20.50px;height:10.25px;background:#00d158"></div>
<div class="a" style="left:172.50px;top:522.25px;width:20.50px;height:10.25px;background:rgba(255,255,255,.26)"></div>
<div class="a" style="left:193.00px;top:522.25px;width:20.50px;height:10.25px;background:#00d158"></div>
<div class="a" style="left:213.50px;top:522.25px;width:20.50px;height:10.25px;background:#ff2400"></div>
<div class="a" style="left:234.00px;top:522.25px;width:20.50px;height:10.25px;background:#00d158"></div>
<div class="a" style="left:254.50px;top:522.25px;width:20.50px;height:10.25px;background:rgba(255,255,255,.26)"></div>
<div class="a" style="left:275.00px;top:522.25px;width:20.50px;height:10.25px;background:rgba(255,255,255,.26)"></div>
<div class="a" style="left:295.50px;top:522.25px;width:20.50px;height:10.25px;background:#ff2400"></div>
<div class="a" style="left:316.00px;top:522.25px;width:20.50px;height:10.25px;background:#ffee00"></div>
<div class="a" style="left:336.50px;top:522.25px;width:20.50px;height:10.25px;background:#00d158"></div>
<div class="a" style="left:357.00px;top:522.25px;width:20.50px;height:10.25px;background:rgba(255,255,255,.26)"></div>
<div class="a" style="left:377.50px;top:522.25px;width:20.50px;height:10.25px;background:#00d158"></div>
<div class="a" style="left:398.00px;top:522.25px;width:20.50px;height:10.25px;background:rgba(255,255,255,.26)"></div>
<div class="a" style="left:418.50px;top:522.25px;width:20.50px;height:10.25px;background:#00d158"></div>
<div class="a" style="left:439.00px;top:522.25px;width:20.50px;height:10.25px;background:rgba(255,255,255,.26)"></div>
<div class="a" style="left:459.50px;top:522.25px;width:20.50px;height:10.25px;background:#00d158"></div>
<div class="a" style="left:480.00px;top:522.25px;width:20.50px;height:10.25px;background:#ff2400"></div>
<div class="a" style="left:500.50px;top:522.25px;width:20.50px;height:10.25px;background:rgba(255,255,255,.26)"></div>
<div class="a" style="left:521.00px;top:522.25px;width:20.50px;height:10.25px;background:#808080"></div>
<div class="a" style="left:63.30px;top:327.00px;width:478.20px;height:1px;background:rgba(10,10,20,1.00)"></div>
<div class="a" style="left:63.30px;top:337.25px;width:478.20px;height:1px;background:rgba(10,10,20,0.85)"></div>
<div class="a" style="left:63.30px;top:347.50px;width:478.20px;height:1px;background:rgba(10,10,20,0.85)"></div>
<div class="a" style="left:63.30px;top:357.75px;width:478.20px;height:1px;background:rgba(10,10,20,0.45)"></div>
<div class="a" style="left:63.30px;top:368.00px;width:478.20px;height:1px;background:rgba(10,10,20,0.85)"></div>
<div class="a" style="left:63.30px;top:378.25px;width:478.20px;height:1px;background:rgba(10,10,20,0.50)"></div>
<div class="a" style="left:63.30px;top:398.75px;width:478.20px;height:1px;background:rgba(10,10,20,0.95)"></div>
<div class="a" style="left:63.30px;top:409.00px;width:478.20px;height:1px;background:rgba(10,10,20,0.95)"></div>
<div class="a" style="left:63.30px;top:419.25px;width:478.20px;height:1px;background:rgba(10,10,20,0.50)"></div>
<div class="a" style="left:63.30px;top:429.50px;width:478.20px;height:1px;background:rgba(10,10,20,0.85)"></div>
<div class="a" style="left:63.30px;top:439.75px;width:478.20px;height:1px;background:rgba(10,10,20,0.40)"></div>
<div class="a" style="left:63.30px;top:460.25px;width:478.20px;height:1px;background:rgba(10,10,20,0.85)"></div>
<div class="a" style="left:63.30px;top:470.50px;width:478.20px;height:1px;background:rgba(10,10,20,0.90)"></div>
<div class="a" style="left:63.30px;top:480.75px;width:478.20px;height:1px;background:rgba(10,10,20,0.90)"></div>
<div class="a" style="left:63.30px;top:491.00px;width:478.20px;height:1px;background:rgba(10,10,20,0.90)"></div>
<div class="a" style="left:63.30px;top:501.25px;width:478.20px;height:1px;background:rgba(10,10,20,0.35)"></div>
<div class="a" style="left:63.30px;top:511.50px;width:478.20px;height:1px;background:rgba(10,10,20,0.70)"></div>
<div class="a" style="left:63.30px;top:521.75px;width:478.20px;height:1px;background:rgba(10,10,20,0.90)"></div>
<div class="a" style="left:63.30px;top:532.00px;width:478.20px;height:1px;background:rgba(10,10,20,1.00)"></div>
<div class="a" style="left:131.50px;top:258.50px;width:410.00px;height:1px;background:rgba(10,10,20,.9)"></div>
<div class="a" style="left:131.00px;top:258.50px;width:1px;height:274.50px;background:rgba(10,10,20,.88)"></div>
<div class="a" style="left:151.50px;top:258.50px;width:1px;height:274.50px;background:rgba(10,10,20,.88)"></div>
<div class="a" style="left:172.00px;top:258.50px;width:1px;height:274.50px;background:rgba(10,10,20,.88)"></div>
<div class="a" style="left:192.50px;top:258.50px;width:1px;height:274.50px;background:rgba(10,10,20,.88)"></div>
<div class="a" style="left:213.00px;top:258.50px;width:1px;height:274.50px;background:rgba(10,10,20,.88)"></div>
<div class="a" style="left:233.50px;top:258.50px;width:1px;height:274.50px;background:rgba(10,10,20,.88)"></div>
<div class="a" style="left:254.00px;top:258.50px;width:1px;height:274.50px;background:rgba(10,10,20,.88)"></div>
<div class="a" style="left:274.50px;top:258.50px;width:1px;height:274.50px;background:rgba(10,10,20,.88)"></div>
<div class="a" style="left:295.00px;top:258.50px;width:1px;height:274.50px;background:rgba(10,10,20,.88)"></div>
<div class="a" style="left:315.50px;top:258.50px;width:1px;height:274.50px;background:rgba(10,10,20,.88)"></div>
<div class="a" style="left:336.00px;top:258.50px;width:1px;height:274.50px;background:rgba(10,10,20,.88)"></div>
<div class="a" style="left:356.50px;top:258.50px;width:1px;height:274.50px;background:rgba(10,10,20,.88)"></div>
<div class="a" style="left:377.00px;top:258.50px;width:1px;height:274.50px;background:rgba(10,10,20,.88)"></div>
<div class="a" style="left:397.50px;top:258.50px;width:1px;height:274.50px;background:rgba(10,10,20,.88)"></div>
<div class="a" style="left:418.00px;top:258.50px;width:1px;height:274.50px;background:rgba(10,10,20,.88)"></div>
<div class="a" style="left:438.50px;top:258.50px;width:1px;height:274.50px;background:rgba(10,10,20,.88)"></div>
<div class="a" style="left:459.00px;top:258.50px;width:1px;height:274.50px;background:rgba(10,10,20,.88)"></div>
<div class="a" style="left:479.50px;top:258.50px;width:1px;height:274.50px;background:rgba(10,10,20,.88)"></div>
<div class="a" style="left:500.00px;top:258.50px;width:1px;height:274.50px;background:rgba(10,10,20,.88)"></div>
<div class="a" style="left:520.50px;top:258.50px;width:1px;height:274.50px;background:rgba(10,10,20,.88)"></div>
<div class="a" style="left:541.00px;top:258.50px;width:1px;height:274.50px;background:rgba(10,10,20,.88)"></div>
<div class="a" style="left:62.80px;top:327.00px;width:1px;height:206.00px;background:rgba(10,10,20,.8)"></div>
<div id="c0" class="v" style="left:145.95px;top:326.00px;transform:translateY(-50%) rotate(-90deg) scaleX(1.0377)">Amiodarone hydrochloride</div>
<div id="c1" class="v" style="left:166.45px;top:326.00px;transform:translateY(-50%) rotate(-90deg) scaleX(1.0722)">Amoxicillin sodium / clavulanic acid</div>
<div id="c2" class="v" style="left:186.95px;top:326.00px;transform:translateY(-50%) rotate(-90deg) scaleX(1.1218)">Aztreonam</div>
<div id="c3" class="v" style="left:207.45px;top:326.00px;transform:translateY(-50%) rotate(-90deg) scaleX(1.0557)">Calcium gluconate</div>
<div id="c4" class="v" style="left:227.95px;top:326.00px;transform:translateY(-50%) rotate(-90deg) scaleX(1.2770)">Ceftriaxone disodium</div>
<div id="c5" class="v" style="left:248.45px;top:326.00px;transform:translateY(-50%) rotate(-90deg) scaleX(0.8583)">Dexamethasone sodium</div>
<div id="c6" class="v" style="left:268.95px;top:326.00px;transform:translateY(-50%) rotate(-90deg) scaleX(0.9514)">Diazepam</div>
<div id="c7" class="v" style="left:289.45px;top:326.00px;transform:translateY(-50%) rotate(-90deg) scaleX(0.8175)">Dobutamine HCl</div>
<div id="c8" class="v" style="left:309.95px;top:326.00px;transform:translateY(-50%) rotate(-90deg) scaleX(1.3491)">Esmolol</div>
<div id="c9" class="v" style="left:330.45px;top:326.00px;transform:translateY(-50%) rotate(-90deg) scaleX(1.0610)">Digoxin</div>
<div id="c10" class="v" style="left:350.95px;top:326.00px;transform:translateY(-50%) rotate(-90deg) scaleX(1.0736)">Fentanyl citrate</div>
<div id="c11" class="v" style="left:371.45px;top:326.00px;transform:translateY(-50%) rotate(-90deg) scaleX(1.0037)">Flumazenil</div>
<div id="c12" class="v" style="left:391.95px;top:326.00px;transform:translateY(-50%) rotate(-90deg) scaleX(1.0658)">Furosemide</div>
<div id="c13" class="v" style="left:412.45px;top:326.00px;transform:translateY(-50%) rotate(-90deg) scaleX(0.8381)">Hydrocortisone sodium</div>
<div id="c14" class="v" style="left:432.95px;top:326.00px;transform:translateY(-50%) rotate(-90deg) scaleX(1.0864)">Insulin</div>
<div id="c15" class="v" style="left:453.45px;top:326.00px;transform:translateY(-50%) rotate(-90deg) scaleX(1.0462)">Levetiracetam</div>
<div id="c16" class="v" style="left:473.95px;top:326.00px;transform:translateY(-50%) rotate(-90deg) scaleX(1.0052)">Metamizole</div>
<div id="c17" class="v" style="left:494.45px;top:326.00px;transform:translateY(-50%) rotate(-90deg) scaleX(1.0684)">Paracetamol</div>
<div id="c18" class="v" style="left:514.95px;top:326.00px;transform:translateY(-50%) rotate(-90deg) scaleX(1.0481)">Potassium chloride</div>
<div id="c19" class="v" style="left:535.45px;top:326.00px;transform:translateY(-50%) rotate(-90deg) scaleX(1.1037)">Propofol</div>
<div id="stc" class="t" style="left:63.80px;top:227.00px;font-size:16.50px;font-weight:700;color:#15151f;font-family:'DejaVu Sans', 'Liberation Sans', sans-serif;transform:scaleX(1.2407);">:</div>
<div id="st" class="t" style="left:72.80px;top:227.00px;font-size:13.60px;font-weight:700;color:#111;font-family:'Liberation Sans', sans-serif;transform:scaleX(0.7571);">STABIL</div>
<div id="st2" class="t" style="left:111.20px;top:227.00px;font-size:13.60px;font-weight:400;color:#6a7078;font-family:'Liberation Sans', sans-serif;transform:scaleX(0.6690);letter-spacing:1.5px;">IS</div>
<div id="www" class="t" style="left:63.50px;top:238.00px;font-size:7.20px;font-weight:400;color:#222;font-family:'DejaVu Sans', 'Liberation Sans', sans-serif;transform:scaleX(1.0340);">www.stabilis.org</div>
<div id="h1" class="t" style="left:262.50px;top:215.00px;font-size:9.00px;font-weight:700;color:#0a0a14;font-family:'DejaVu Sans', 'Liberation Sans', sans-serif;transform:scaleX(0.8981);">Hospital de Manises</div>
<div id="h2" class="t" style="left:223.90px;top:228.00px;font-size:9.00px;font-weight:700;color:#0a0a14;font-family:'DejaVu Sans', 'Liberation Sans', sans-serif;transform:scaleX(0.9016);">Hospitalización de corta estancia 2.2</div>
<div id="h3" class="t" style="left:241.90px;top:242.00px;font-size:9.00px;font-weight:700;color:#0a0a14;font-family:'DejaVu Sans', 'Liberation Sans', sans-serif;transform:scaleX(0.9103);">Tabla de compatibilidad en Y</div>
<div id="upd" class="t" style="left:448.00px;top:223.00px;font-size:6.60px;font-weight:400;color:#16204f;font-family:'Liberation Sans', sans-serif;transform:scaleX(1.0314);-webkit-text-stroke:.1px #16204f;">Última actualización 31/03/2024</div>
<div id="f0" class="t" style="left:65.30px;top:533.25px;font-size:3.90px;font-weight:400;color:#16288c;font-family:'Liberation Sans', sans-serif;transform:scaleX(1.0002);-webkit-text-stroke:.12px #16288c;">Los datos contenidos en esta tabla proceden de la tabla de compatibilidad de Stabilis®. Regularmente se publican nuevos datos de estabilidad, por lo que la información de esta tabla puede evolucionar. La presentación actual es sintética; no incorpora la totalidad de las diluciones</div>
<div id="f1" class="t" style="left:65.30px;top:540.35px;font-size:3.90px;font-weight:400;color:#16288c;font-family:'Liberation Sans', sans-serif;transform:scaleX(1.0968);-webkit-text-stroke:.12px #16288c;">propuestas, concentraciones, protección de la luz, contenedor, o temperatura de conservación. Se recomienda consultar la monografía para conocer las condiciones experimentales del estudio. Las celdas vacías indican que no se dispone de datos de</div>
<div id="f2" class="t" style="left:65.30px;top:547.35px;font-size:3.90px;font-weight:400;color:#16288c;font-family:'Liberation Sans', sans-serif;transform:scaleX(1.1267);-webkit-text-stroke:.12px #16288c;">compatibilidad. Para conocer las condiciones del estudio de la compatibilidad de las mezclas en Y consulte Stabilis®. La ausencia de datos de estabilidad no excluye la posibilidad de una mezcla estable. El usuario es responsable de cualquier</div>
<div id="f3" class="t" style="left:65.30px;top:554.25px;font-size:3.90px;font-weight:400;color:#16288c;font-family:'Liberation Sans', sans-serif;transform:scaleX(0.9803);-webkit-text-stroke:.12px #16288c;">mezcla, establezca en la consulta y el análisis de cada ficha de compatibilidad en Y.</div>
<div id="r0" class="t" style="left:65.70px;top:322.91px;font-size:3.50px;font-weight:400;color:#0c1448;font-family:'Liberation Sans', sans-serif;transform:scaleX(1.0377);-webkit-text-stroke:.1px #0c1448;">Amiodarone hydrochloride</div>
<div id="r1" class="t" style="left:65.70px;top:333.16px;font-size:3.50px;font-weight:400;color:#0c1448;font-family:'Liberation Sans', sans-serif;transform:scaleX(1.0722);-webkit-text-stroke:.1px #0c1448;">Amoxicillin sodium / clavulanic acid</div>
<div id="r2" class="t" style="left:65.70px;top:343.41px;font-size:3.50px;font-weight:400;color:#0c1448;font-family:'Liberation Sans', sans-serif;transform:scaleX(1.1218);-webkit-text-stroke:.1px #0c1448;">Aztreonam</div>
<div id="r3" class="t" style="left:65.70px;top:353.66px;font-size:3.50px;font-weight:400;color:#0c1448;font-family:'Liberation Sans', sans-serif;transform:scaleX(1.0557);-webkit-text-stroke:.1px #0c1448;">Calcium gluconate</div>
<div id="r4" class="t" style="left:65.70px;top:363.91px;font-size:3.50px;font-weight:400;color:#0c1448;font-family:'Liberation Sans', sans-serif;transform:scaleX(1.2770);-webkit-text-stroke:.1px #0c1448;">Ceftriaxone disodium</div>
<div id="r5" class="t" style="left:65.70px;top:374.16px;font-size:3.50px;font-weight:400;color:#0c1448;font-family:'Liberation Sans', sans-serif;transform:scaleX(0.8583);-webkit-text-stroke:.1px #0c1448;">Dexamethasone sodium</div>
<div id="r6" class="t" style="left:65.70px;top:384.41px;font-size:3.50px;font-weight:400;color:#0c1448;font-family:'Liberation Sans', sans-serif;transform:scaleX(0.9514);-webkit-text-stroke:.1px #0c1448;">Diazepam</div>
<div id="r7" class="t" style="left:65.70px;top:394.66px;font-size:3.50px;font-weight:400;color:#0c1448;font-family:'Liberation Sans', sans-serif;transform:scaleX(0.8175);-webkit-text-stroke:.1px #0c1448;">Dobutamine HCl</div>
<div id="r8" class="t" style="left:65.70px;top:404.91px;font-size:3.50px;font-weight:400;color:#0c1448;font-family:'Liberation Sans', sans-serif;transform:scaleX(1.3491);-webkit-text-stroke:.1px #0c1448;">Esmolol</div>
<div id="r9" class="t" style="left:65.70px;top:415.16px;font-size:3.50px;font-weight:400;color:#0c1448;font-family:'Liberation Sans', sans-serif;transform:scaleX(1.0610);-webkit-text-stroke:.1px #0c1448;">Digoxin</div>
<div id="r10" class="t" style="left:65.70px;top:425.41px;font-size:3.50px;font-weight:400;color:#0c1448;font-family:'Liberation Sans', sans-serif;transform:scaleX(1.0736);-webkit-text-stroke:.1px #0c1448;">Fentanyl citrate</div>
<div id="r11" class="t" style="left:65.70px;top:435.66px;font-size:3.50px;font-weight:400;color:#0c1448;font-family:'Liberation Sans', sans-serif;transform:scaleX(1.0037);-webkit-text-stroke:.1px #0c1448;">Flumazenil</div>
<div id="r12" class="t" style="left:65.70px;top:445.91px;font-size:3.50px;font-weight:400;color:#0c1448;font-family:'Liberation Sans', sans-serif;transform:scaleX(1.0658);-webkit-text-stroke:.1px #0c1448;">Furosemide</div>
<div id="r13" class="t" style="left:65.70px;top:456.16px;font-size:3.50px;font-weight:400;color:#0c1448;font-family:'Liberation Sans', sans-serif;transform:scaleX(0.8381);-webkit-text-stroke:.1px #0c1448;">Hydrocortisone sodium</div>
<div id="r14" class="t" style="left:65.70px;top:466.41px;font-size:3.50px;font-weight:400;color:#0c1448;font-family:'Liberation Sans', sans-serif;transform:scaleX(1.0864);-webkit-text-stroke:.1px #0c1448;">Insulin</div>
<div id="r15" class="t" style="left:65.70px;top:476.66px;font-size:3.50px;font-weight:400;color:#0c1448;font-family:'Liberation Sans', sans-serif;transform:scaleX(1.0462);-webkit-text-stroke:.1px #0c1448;">Levetiracetam</div>
<div id="r16" class="t" style="left:65.70px;top:486.91px;font-size:3.50px;font-weight:400;color:#0c1448;font-family:'Liberation Sans', sans-serif;transform:scaleX(1.0052);-webkit-text-stroke:.1px #0c1448;">Metamizole</div>
<div id="r17" class="t" style="left:65.70px;top:497.16px;font-size:3.50px;font-weight:400;color:#0c1448;font-family:'Liberation Sans', sans-serif;transform:scaleX(1.0684);-webkit-text-stroke:.1px #0c1448;">Paracetamol</div>
<div id="r18" class="t" style="left:65.70px;top:507.41px;font-size:3.50px;font-weight:400;color:#0c1448;font-family:'Liberation Sans', sans-serif;transform:scaleX(1.0481);-webkit-text-stroke:.1px #0c1448;">Potassium chloride</div>
<div id="r19" class="t" style="left:65.70px;top:517.66px;font-size:3.50px;font-weight:400;color:#0c1448;font-family:'Liberation Sans', sans-serif;transform:scaleX(1.1037);-webkit-text-stroke:.1px #0c1448;">Propofol</div>
</div>
<div id="uni1" class="t" style="left:59.70px;top:20.00px;font-size:13.40px;font-weight:700;color:#1d1d1b;font-family:'Liberation Sans', sans-serif;transform:scaleX(1.0541);-webkit-text-stroke:.3px #1d1d1b;">Universidad</div>
<div id="uni2" class="t" style="left:59.70px;top:34.00px;font-size:13.40px;font-weight:700;color:#1d1d1b;font-family:'Liberation Sans', sans-serif;transform:scaleX(1.0564);-webkit-text-stroke:.3px #1d1d1b;">Europea</div>
<div id="hdr" class="t" style="left:151.20px;top:59.00px;font-size:9.90px;font-weight:400;color:#000;font-family:'Liberation Sans', sans-serif;transform:scaleX(1.0756);-webkit-text-stroke:.22px #000;">Cuidados en la Infancia y Adolescencia Nieves Vázquez Carrera</div>
<div id="act" class="t" style="left:85.90px;top:93.00px;font-size:9.90px;font-weight:700;color:#000;font-family:'Liberation Sans', sans-serif;transform:scaleX(0.9911);-webkit-text-stroke:.15px #000;">ACTIVIDAD 2. CÁLCULO DE DOSIS PEDIÁTRICAS Y BALANCE HÍDRICO</div>
<div id="p1" class="t" style="left:87.30px;top:123.00px;font-size:9.90px;font-weight:700;color:#000;font-family:'Liberation Sans', sans-serif;transform:scaleX(1.0681);-webkit-text-stroke:.15px #000;">1.- Elaborar una tabla de incompatibilidad de fármacos utilizando la herramienta</div>
<div id="p2" class="t" style="left:85.90px;top:138.00px;font-size:9.90px;font-weight:700;color:#000;font-family:'Liberation Sans', sans-serif;transform:scaleX(1.0449);-webkit-text-stroke:.15px #000;">virtual “Stabilis” con los fármacos más utilizados en las unidades donde habéis</div>
<div id="p3" class="t" style="left:86.30px;top:153.00px;font-size:9.90px;font-weight:700;color:#000;font-family:'Liberation Sans', sans-serif;transform:scaleX(1.0645);-webkit-text-stroke:.15px #000;">realizado prácticas. (Un mínimo de 20 fármacos).</div>
<div id="en" class="t" style="left:87.40px;top:183.00px;font-size:9.90px;font-weight:400;color:#000;font-family:'Liberation Sans', sans-serif;transform:scaleX(1.0506);-webkit-text-stroke:.22px #000;">Enlace a Stabilis:</div>
<div id="lnk" class="t" style="left:170.10px;top:183.00px;font-size:9.90px;font-weight:400;color:#0563c1;font-family:'Liberation Sans', sans-serif;transform:scaleX(1.1958);-webkit-text-stroke:.1px #0563c1;"><u>https://www.stabilis.org</u></div>
<div id="cur" class="t" style="left:86.30px;top:793.00px;font-size:9.90px;font-weight:400;color:#000;font-family:'Liberation Sans', sans-serif;transform:scaleX(1.0785);-webkit-text-stroke:.22px #000;">Curso 2023-2024</div>
</body></html>
